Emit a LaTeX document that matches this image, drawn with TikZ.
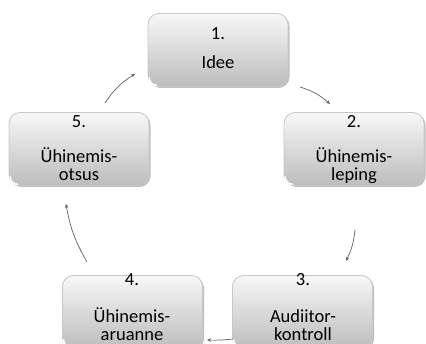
\documentclass[tikz,border=0pt]{standalone}
\usepackage{fontspec}
\setmainfont{Carlito}
\usetikzlibrary{arrows.meta,shadows}
\begin{document}
\begin{tikzpicture}[x=1pt,y=-1pt,
  stage/.style={rectangle, rounded corners=11pt, minimum width=140pt, minimum height=73pt,
    draw=black!22, line width=0.8pt, top color=black!3, bottom color=black!26,
    drop shadow={shadow xshift=1.5pt, shadow yshift=-1.5pt, opacity=0.25, fill=black}},
  gloss/.style={draw=white, line width=1.6pt, line cap=round},
  words/.style={align=center, font=\fontsize{18.5}{18}\selectfont, text=black,
    anchor=base, inner sep=0pt},
  flow/.style={draw=black!62, line width=0.7pt, -{Stealth[length=4pt,width=3.5pt]}}]
  \useasboundingbox (0,0) rectangle (426,344);
  \fill[white] (0,0) rectangle (426,344);
  \clip (0,0) rectangle (426,344);

  % stage boxes
  \node[stage] (b1) at (218,50) {};
  \node[stage] (b2) at (354,149) {};
  \node[stage] (b3) at (302.5,312) {};
  \node[stage] (b4) at (132.5,312) {};
  \node[stage] (b5) at (79,149) {};

  % bevel highlight in the lower left corner of each box
  \foreach \n in {b1,b2,b3,b4,b5}
    \draw[gloss] ([shift={(1.6pt,9pt)}]\n.south west) to[out=-90,in=180]
                 ([shift={(9pt,1.6pt)}]\n.south west);

  % stage captions (placed by the baseline of their last line)
  \node[words] (t1) at (218,69) {1.\\[11pt]Idee};
  \node[words] (t2) at (354,181) {2.\\[17pt]Ühinemis-\\leping};
  \node[words] (t3) at (303,341) {3.\\[19pt]Audiitor-\\kontroll};
  \node[words] (t4) at (132,341) {4.\\[19pt]Ühinemis-\\aruanne};
  \node[words] (t5) at (79,181) {5.\\[17pt]Ühinemis-\\otsus};

  % arrow end points between the stages
  \coordinate (a1s) at (105,103); \coordinate (a1e) at (135,74);
  \coordinate (a2s) at (300,87);  \coordinate (a2e) at (330,104);
  \coordinate (a3s) at (355,230); \coordinate (a3e) at (346,261);
  \coordinate (a4s) at (233,339); \coordinate (a4e) at (207,340);
  \coordinate (a5s) at (87,262);  \coordinate (a5e) at (66,204);

  % cycle arrows
  \draw[flow] (a1s) to[bend left=12] (a1e);
  \draw[flow] (a2s) to[bend left=12] (a2e);
  \draw[flow] (a3s) to[bend left=10] (a3e);
  \draw[flow] (a4s) to[bend left=4] (a4e);
  \draw[flow] (a5s) to[bend left=10] (a5e);
\end{tikzpicture}
\end{document}
